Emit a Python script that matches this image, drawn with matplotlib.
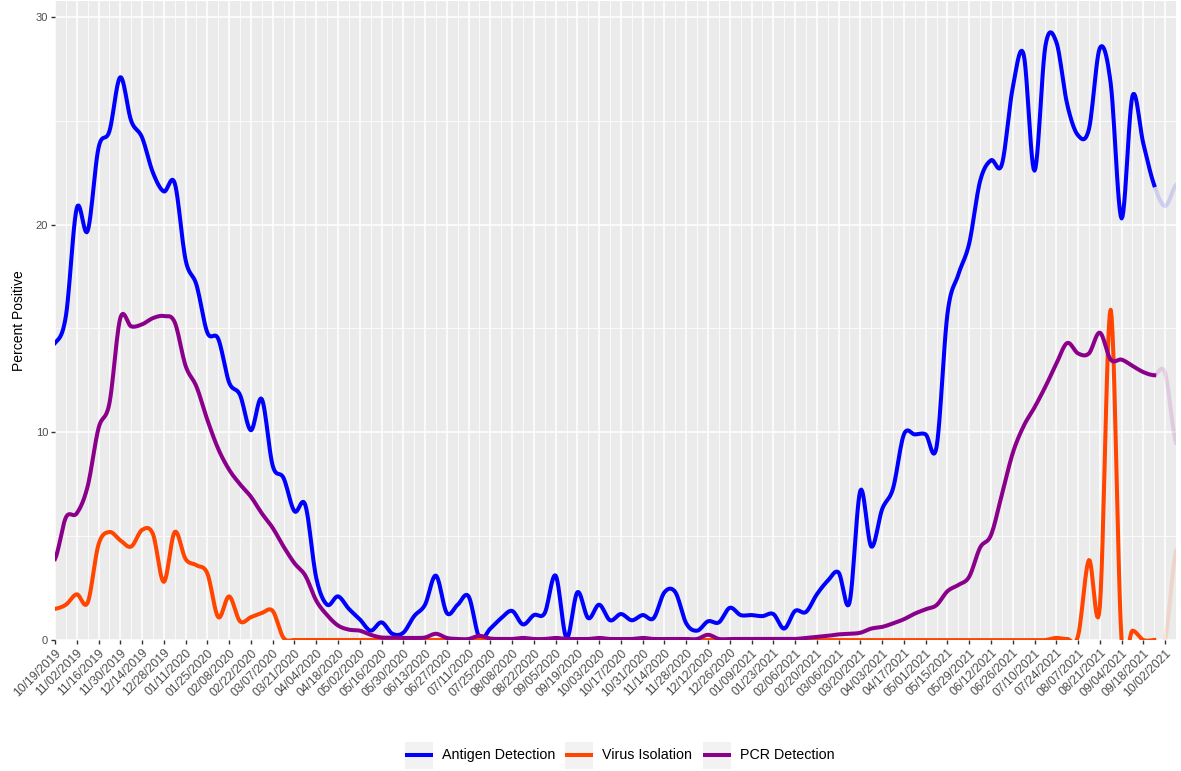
import numpy as np
import pandas as pd
import matplotlib
matplotlib.use("Agg")
import matplotlib.pyplot as plt
import matplotlib.dates as mdates
from matplotlib.patches import Rectangle
from matplotlib.lines import Line2D

plt.rcParams['font.family'] = ['Liberation Sans', 'DejaVu Sans']

# weekly dates, last two weeks are incomplete (drawn faded)
weeks = pd.date_range('2019-10-19', periods=104, freq='7D')

antigen = [14.3, 15.6, 20.8, 19.7, 23.7, 24.5, 27.1, 25.0, 24.2, 22.5,
           21.6, 22.0, 18.3, 17.1, 14.8, 14.5, 12.4, 11.8, 10.1, 11.6,
           8.4, 7.8, 6.2, 6.5, 3.0, 1.7, 2.1, 1.5, 1.0, 0.45,
           0.85, 0.3, 0.35, 1.15, 1.7, 3.1, 1.3, 1.7, 2.1, 0.1,
           0.55, 1.05, 1.4, 0.75, 1.2, 1.3, 3.1, 0.1, 2.3, 1.05,
           1.7, 0.95, 1.25, 0.95, 1.2, 1.05, 2.3, 2.3, 0.8, 0.45,
           0.9, 0.85, 1.55, 1.2, 1.2, 1.15, 1.25, 0.55, 1.4, 1.35,
           2.2, 2.85, 3.25, 1.8, 7.2, 4.5, 6.3, 7.3, 9.9, 9.9,
           9.9, 9.3, 15.7, 17.6, 19.1, 22.1, 23.1, 22.9, 26.6, 28.2,
           22.6, 28.6, 28.8, 25.8, 24.3, 24.6, 28.5, 26.8, 20.3, 26.2,
           23.9, 21.9, 20.9, 21.9]

virus = [1.5, 1.7, 2.2, 1.8, 4.6, 5.2, 4.8, 4.5, 5.3, 5.1,
         2.8, 5.2, 3.9, 3.6, 3.2, 1.1, 2.1, 0.9, 1.1, 1.3,
         1.4, 0.1, 0.0, 0.0, 0.0, 0.0, 0.0, 0.0, 0.0, 0.0,
         0.0, 0.0, 0.0, 0.0, 0.0, 0.0, 0.0, 0.0, 0.0, 0.0,
         0.0, 0.0, 0.0, 0.0, 0.0, 0.0, 0.0, 0.0, 0.0, 0.0,
         0.0, 0.0, 0.0, 0.0, 0.0, 0.0, 0.0, 0.0, 0.0, 0.0,
         0.0, 0.0, 0.0, 0.0, 0.0, 0.0, 0.0, 0.0, 0.0, 0.0,
         0.0, 0.0, 0.0, 0.0, 0.0, 0.0, 0.0, 0.0, 0.0, 0.0,
         0.0, 0.0, 0.0, 0.0, 0.0, 0.0, 0.0, 0.0, 0.0, 0.0,
         0.0, 0.0, 0.1, 0.05, 0.2, 3.85, 1.6, 15.9, 0.0, 0.45,
         0.0, 0.0, 0.0, 4.3]

pcr = [3.9, 5.9, 6.1, 7.4, 10.2, 11.4, 15.5, 15.1, 15.2, 15.5,
       15.6, 15.3, 13.2, 12.2, 10.6, 9.2, 8.2, 7.5, 6.9, 6.1,
       5.4, 4.5, 3.7, 3.1, 1.9, 1.2, 0.7, 0.5, 0.45, 0.25,
       0.12, 0.12, 0.1, 0.1, 0.12, 0.3, 0.1, 0.05, 0.05, 0.2,
       0.07, 0.05, 0.05, 0.1, 0.05, 0.05, 0.1, 0.05, 0.05, 0.05,
       0.1, 0.05, 0.05, 0.05, 0.1, 0.05, 0.05, 0.05, 0.05, 0.05,
       0.25, 0.05, 0.05, 0.05, 0.05, 0.05, 0.05, 0.05, 0.05, 0.1,
       0.15, 0.2, 0.27, 0.3, 0.35, 0.55, 0.63, 0.8, 1.0, 1.27,
       1.48, 1.68, 2.35, 2.65, 3.05, 4.45, 5.05, 7.0, 9.0, 10.3,
       11.2, 12.2, 13.3, 14.3, 13.8, 13.8, 14.8, 13.5, 13.5, 13.2,
       12.9, 12.75, 12.85, 9.5]

series = [('Antigen Detection', antigen, '#0000FF'),
          ('Virus Isolation', virus, '#FF4500'),
          ('PCR Detection', pcr, '#8B008B')]
last_complete = 101  # index of last complete week

W, H = 1181, 771


def smooth(y, n=12):
    # uniform Catmull-Rom spline through the weekly points
    y = np.asarray(y, dtype=float)
    p = np.concatenate([[y[0]], y, [y[-1]]])
    t = np.linspace(0, 1, n, endpoint=False)
    xs, ys = [], []
    for i in range(len(y) - 1):
        p0, p1, p2, p3 = p[i], p[i + 1], p[i + 2], p[i + 3]
        seg = 0.5 * (2 * p1 + (-p0 + p2) * t
                     + (2 * p0 - 5 * p1 + 4 * p2 - p3) * t ** 2
                     + (-p0 + 3 * p1 - 3 * p2 + p3) * t ** 3)
        xs.append(i + t)
        ys.append(seg)
    xs.append([len(y) - 1])
    ys.append([y[-1]])
    return np.concatenate(xs), np.concatenate(ys)


fig = plt.figure(figsize=(W / 100, H / 100), dpi=100)
ax = fig.add_axes([55 / W, 1 - 640 / H, 1121 / W, 639 / H])
ax.set_facecolor('#EBEBEB')
for s in ax.spines.values():
    s.set_visible(False)

x0 = mdates.date2num(weeks[0])
for name, vals, col in series:
    xs, ys = smooth(vals)
    xd = x0 + 7 * xs
    solid = xs <= last_complete
    faded = xs >= last_complete
    ax.plot(xd[solid], ys[solid], color=col, lw=2.9, zorder=3)
    ax.plot(xd[faded], ys[faded], color=col, lw=2.9, alpha=0.13, zorder=3)

ax.set_xlim(x0, mdates.date2num(weeks[-1]))
ax.set_ylim(0, 30.77)

major = weeks[0:103:2]
minor = weeks[1:104:2]
ax.set_xticks(mdates.date2num(major))
ax.set_xticks(mdates.date2num(minor), minor=True)
ax.set_xticklabels([d.strftime('%m/%d/%Y') for d in major], rotation=45,
                   ha='right', rotation_mode='anchor', fontsize=8.8, color='#4D4D4D')
ax.set_yticks([0, 10, 20, 30])
ax.set_yticks([5, 15, 25], minor=True)
ax.set_yticklabels(['0', '10', '20', '30'], fontsize=8, color='#4D4D4D')

ax.grid(which='major', color='white', lw=1.1)
ax.grid(which='minor', color='white', lw=0.55)
ax.set_axisbelow(True)
ax.tick_params(which='major', length=3, width=1, color='#333333', pad=2)
ax.tick_params(which='minor', length=0)

ax.set_ylabel('Percent Positive', fontsize=10, color='black', labelpad=7)

# legend at the bottom, ggplot style keys (grey box with line)
key_left = [405, 565, 703]
for (name, vals, col), kx in zip(series, key_left):
    fig.add_artist(Rectangle((kx / W, 1 - 769 / H), 28 / W, 27 / H,
                             transform=fig.transFigure, facecolor='#F2F2F2',
                             edgecolor='none'))
    fig.add_artist(Line2D([(kx + 2) / W, (kx + 26) / W], [1 - 755 / H, 1 - 755 / H],
                          transform=fig.transFigure, color=col, lw=2.9))
    fig.text((kx + 37) / W, 1 - 755 / H, name, fontsize=10.3, va='center', ha='left')

fig.savefig('out.png', dpi=100)
